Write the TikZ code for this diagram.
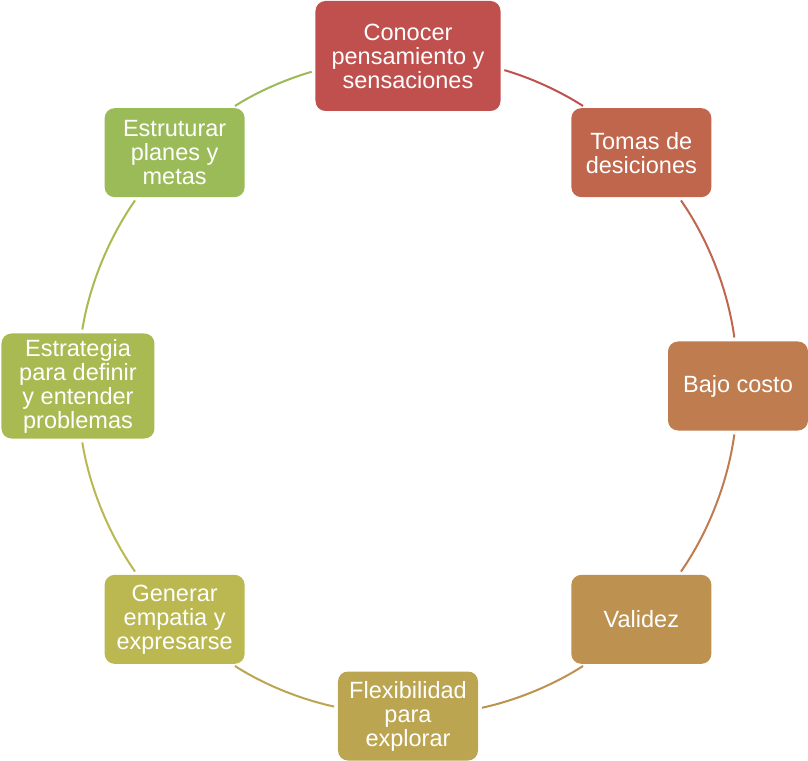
\documentclass[tikz,border=0pt]{standalone}
\usepackage{fontspec}
\setmainfont{Liberation Sans}
\definecolor{c0}{HTML}{C0504D}
\definecolor{c1}{HTML}{BF664D}
\definecolor{c2}{HTML}{BE7C4F}
\definecolor{c3}{HTML}{BD9150}
\definecolor{c4}{HTML}{BCA550}
\definecolor{c5}{HTML}{BBB852}
\definecolor{c6}{HTML}{A9BA53}
\definecolor{c7}{HTML}{9BBB59}
\begin{document}
\begin{tikzpicture}[x=1pt, y=1pt,
        box/.style = {fill=#1, rounded corners=10pt, text=white, align=center,
            minimum width=140pt, minimum height=89pt, inner sep=2pt, outer sep=0pt,
            font=\fontsize{23.5}{24}\selectfont},
        link/.style = {draw=#1, line width=2pt, shorten <=4pt, shorten >=4pt, looseness=0.86}
        ]
        \useasboundingbox (-408,-374) rectangle (400,386);
        \node[box=c0, minimum width=185pt, minimum height=110pt] (know) at (90:330) {Conocer\\pensamiento y\\sensaciones};
        \node[box=c1] (decide) at (45:330) {Tomas de\\desiciones};
        \node[box=c2] (cost) at (0:330) {Bajo costo};
        \node[box=c3] (valid) at (-45:330) {Validez};
        \node[box=c4] (flex) at (-90:330) {Flexibilidad\\para\\explorar};
        \node[box=c5] (empathy) at (-135:330) {Generar\\empatia y\\expresarse};
        \node[box=c6, minimum width=153pt, minimum height=105pt] (strategy) at (180:330) {Estrategia\\para definir\\y entender\\problemas};
        \node[box=c7] (plans) at (135:330) {Estruturar\\planes y\\metas};
        \draw[link=c0] (know.-8.2) to[out=-16.3, in=147.3] (decide.141.1);
        \draw[link=c1] (decide.-50) to[out=-55.1, in=97.8] (cost.94);
        \draw[link=c2] (cost.-94) to[out=-97.8, in=55.1] (valid.50);
        \draw[link=c3] (valid.-141.1) to[out=-147.3, in=12.3] (flex.6.2);
        \draw[link=c4] (flex.173.8) to[out=167.7, in=-32.7] (empathy.-38.9);
        \draw[link=c5] (empathy.130) to[out=124.9, in=-80.8] (strategy.-86);
        \draw[link=c6] (strategy.86) to[out=80.8, in=-124.9] (plans.-130);
        \draw[link=c7] (plans.38.9) to[out=32.7, in=-163.7] (know.-171.8);
\end{tikzpicture}
\end{document}
